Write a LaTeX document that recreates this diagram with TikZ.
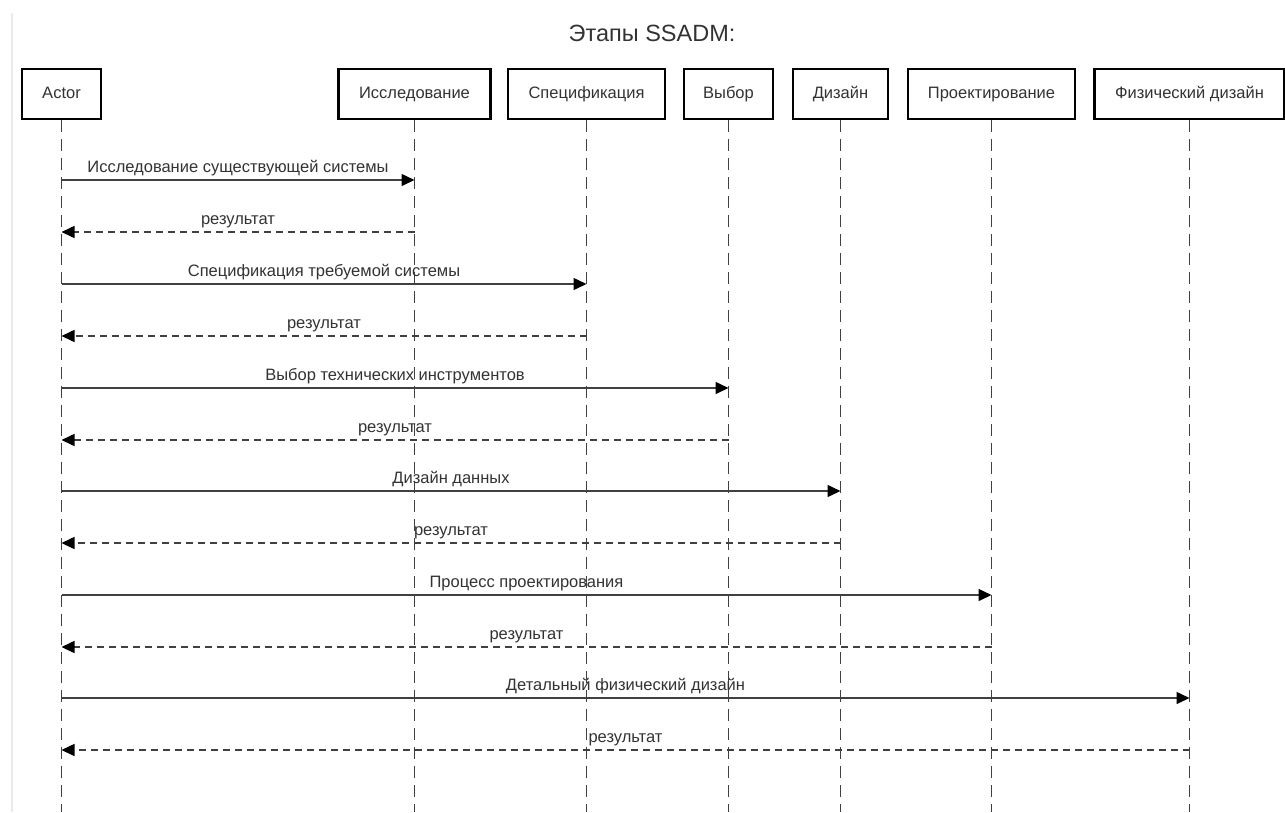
\documentclass[tikz,border=0pt]{standalone}
\usepackage{fontspec}
\setmainfont{Liberation Sans}
\usetikzlibrary{arrows.meta, calc}
\tikzset{
  stage/.style={draw=black, line width=2.5pt, minimum height=50pt, inner sep=0pt,
    text height=12pt, text depth=3.5pt,
    font=\fontsize{16.5}{19}\selectfont, text=black!80},
  life/.style={line width=1.3pt, draw=black!75, dash pattern=on 12pt off 7pt},
  call/.style={line width=1.5pt, draw=black!75,
    -{Triangle[length=13pt, width=12pt, fill=black, color=black]}},
  reply/.style={call, dash pattern=on 7pt off 5pt},
  msg/.style={font=\fontsize{16.5}{19}\selectfont, text=black!80, anchor=base, yshift=8pt}
}

\begin{document}
\begin{tikzpicture}[x=1pt, y=-1pt]
  \fill[white] (0,0) rectangle (1285,812);
  \useasboundingbox (0,0) rectangle (1285,812);
  \draw[black!8, line width=1.5pt] (12,13) -- (12,812);

  \node[font=\fontsize{23.5}{28}\selectfont, text=black!80] (title) at (652,33) {Этапы SSADM:};

  % участники
  \node[stage, minimum width=79pt] (actor) at (61.5,94) {Actor};
  \node[stage, minimum width=152pt] (issl) at (414.5,94) {Исследование};
  \node[stage, minimum width=157pt] (spec) at (586.5,94) {Спецификация};
  \node[stage, minimum width=89pt] (vybor) at (728.5,94) {Выбор};
  \node[stage, minimum width=95pt] (dizain) at (840.5,94) {Дизайн};
  \node[stage, minimum width=167pt] (proekt) at (991.5,94) {Проектирование};
  \node[stage, minimum width=190pt] (fiz) at (1189.5,94) {Физический дизайн};

  \coordinate (bottom) at (0,812);
  \foreach \n in {actor, issl, spec, vybor, dizain, proekt, fiz}
    \draw[life] (\n.south) -- (\n.south |- bottom);

  % сообщения
  \foreach \y/\n/\txt in {180/issl/Исследование существующей системы,
                          284/spec/Спецификация требуемой системы,
                          388/vybor/Выбор технических инструментов,
                          491/dizain/Дизайн данных,
                          595/proekt/Процесс проектирования,
                          698/fiz/Детальный физический дизайн} {
    \coordinate (go) at (0,\y);
    \coordinate (back) at (0,\y+52);
    \draw[call] (actor |- go) -- node[msg] {\txt} (\n |- go);
    \draw[reply] (\n |- back) -- node[msg] {результат} (actor |- back);
  }
\end{tikzpicture}
\end{document}
